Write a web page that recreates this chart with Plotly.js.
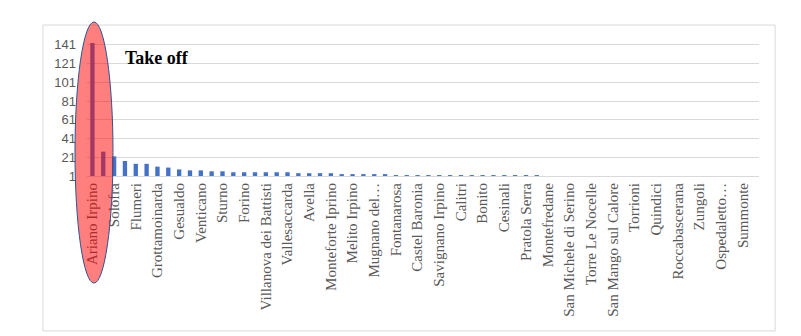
<!DOCTYPE html>
<html>
<head>
<meta charset="utf-8">
<script src="https://cdn.plot.ly/plotly-3.0.1.min.js"></script>
<style>
  body { margin: 0; padding: 0; background: #fff; }
  #chart { width: 801px; height: 336px; }
</style>
</head>
<body>
<div id="chart"></div>
<script>
// shown tick labels (every other town, as in the original)
const labels = [
    "Ariano Irpino", "Solofra", "Flumeri", "Grottamoinarda", "Gesualdo",
    "Venticano", "Sturno", "Forino", "Villanova dei Battisti", "Vallesaccarda",
    "Avella", "Monteforte Iprino", "Melito Irpino", "Mugnano del…", "Fontanarosa",
    "Castel Baronia", "Savignano Irpino", "Calitri", "Bonito", "Cesinali",
    "Pratola Serra", "Montefredane", "San Michele di Serino", "Torre Le Nocelle",
    "San Mango sul Calore", "Torrioni", "Quindici", "Roccabascerana", "Zungoli",
    "Ospedaletto…", "Summonte"
];

// values of all 62 towns
const values = [
    143, 27, 22, 17, 14, 14, 11, 10, 8, 7,
    7, 6, 6, 5, 5, 5, 5, 5, 5, 4,
    4, 4, 4, 3, 3, 3, 3, 3, 2, 2,
    2, 2, 2, 2, 2, 2, 2, 2, 2, 2,
    2, 2, 1, 1, 1, 1, 1, 1, 1, 1,
    1, 1, 1, 1, 1, 1, 1, 1, 1, 1,
    1, 1
];

const yTicks = [1, 21, 41, 61, 81, 101, 121, 141];

let idx = [];
for (let i = 0; i < values.length; i++) idx.push(i);
let tickPos = [];
for (let i = 0; i < labels.length; i++) tickPos.push(i * 2);

// bars start at 1 (axis minimum)
let trace = {
    type: 'bar',
    x: idx,
    y: values.map(v => v - 1),
    base: 1,
    marker: { color: '#4472C4' },
    hoverinfo: 'none'
};

let layout = {
    width: 801,
    height: 336,
    margin: { l: 87, r: 42, t: 43, b: 160 },
    paper_bgcolor: '#fff',
    plot_bgcolor: '#fff',
    showlegend: false,
    bargap: 0.6,
    xaxis: {
        range: [-0.5, values.length - 0.5],
        tickmode: 'array',
        tickvals: tickPos,
        ticktext: labels,
        tickangle: -90,
        tickfont: { family: 'Liberation Serif, Times New Roman, serif', size: 15, color: '#595959' },
        showgrid: false,
        zeroline: false,
        showline: true,
        linecolor: '#D9D9D9',
        linewidth: 1,
        ticks: ''
    },
    yaxis: {
        range: [1, 143],
        tickmode: 'array',
        tickvals: yTicks,
        tickfont: { family: 'Liberation Sans, Arial, sans-serif', size: 13, color: '#595959' },
        ticklabelstandoff: 10,
        gridcolor: '#D9D9D9',
        zeroline: false,
        showline: false,
        ticks: ''
    },
    shapes: [
        {
            type: 'rect', xref: 'paper', yref: 'paper',
            x0: -0.0655, x1: 1.024, y0: -1.165, y1: 1.135,
            line: { color: '#D9D9D9', width: 1 },
            layer: 'below'
        },
        {
            type: 'circle', xref: 'paper', yref: 'paper',
            x0: -0.0179, x1: 0.0387, y0: -0.805, y1: 1.158,
            fillcolor: 'rgba(255,0,0,0.5)',
            line: { color: '#2F528F', width: 1 },
            layer: 'above'
        }
    ],
    annotations: [
        {
            text: '<b>Take off</b>',
            xref: 'paper', yref: 'paper',
            x: 0.104, y: 0.887,
            xanchor: 'center', yanchor: 'middle',
            showarrow: false,
            font: { family: 'Liberation Serif, Times New Roman, serif', size: 18, color: '#000' }
        }
    ]
};

Plotly.newPlot('chart', [trace], layout, { displayModeBar: false, staticPlot: true });
</script>
</body>
</html>
